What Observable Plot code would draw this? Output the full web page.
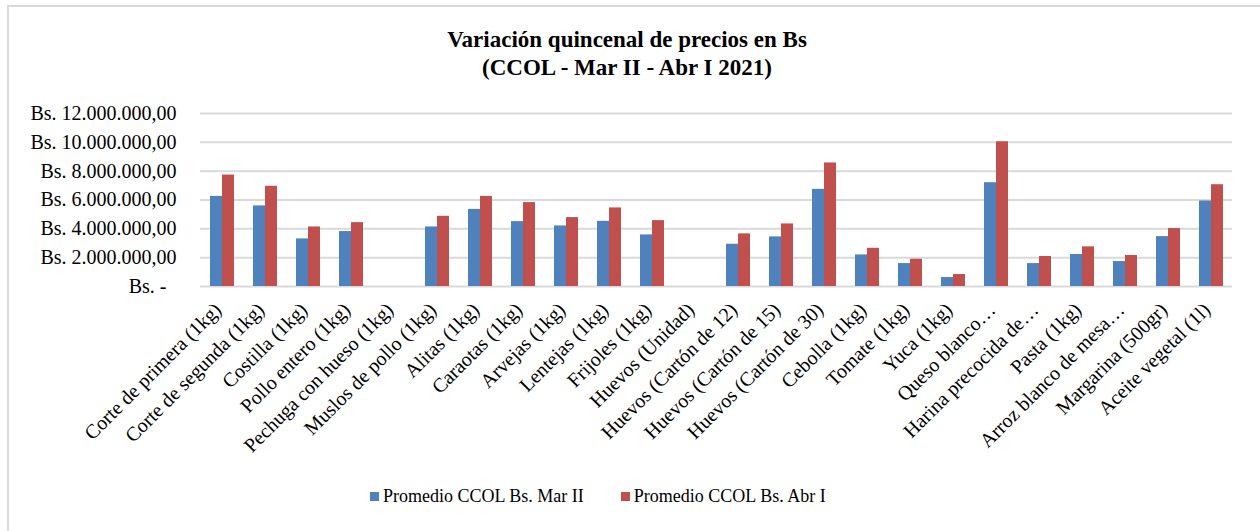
<!DOCTYPE html>
<html>
<head>
<meta charset="utf-8">
<script src="https://cdn.jsdelivr.net/npm/d3@7"></script>
<script src="https://cdn.jsdelivr.net/npm/@observablehq/plot@0.6"></script>
<style>
  body { margin: 0; background: #fff; font-family: "Liberation Serif", serif; }
  #wrap { position: relative; width: 1260px; height: 531px; overflow: hidden; background: #fff; }
  #frame { position: absolute; left: 7px; top: 5px; width: 1400px; height: 700px; border-top: 2px solid #d9d9d9; border-left: 2px solid #d9d9d9; }
  #title { position: absolute; top: 26px; left: 0; width: 1254px; text-align: center; font-weight: bold; font-size: 23px; line-height: 28px; color: #000; }
  #chart { position: absolute; top: 95px; left: 0; }
  #legend { position: absolute; top: 486px; left: 370px; display: flex; align-items: center; font-size: 18px; color: #000; }
  .item { display: flex; align-items: center; margin-right: 37px; }
  .sw { width: 9px; height: 9px; margin-right: 4px; }
</style>
</head>
<body>
<div id="wrap">
  <div id="frame"></div>
  <div id="title">Variación quincenal de precios en Bs<br>(CCOL - Mar II - Abr I 2021)</div>
  <div id="chart"></div>
  <div id="legend"></div>
</div>
<script>
const categories = [
  "Corte de primera (1kg)", "Corte de segunda (1kg)", "Costilla (1kg)", "Pollo entero (1kg)",
  "Pechuga con hueso (1kg)", "Muslos de pollo (1kg)", "Alitas (1kg)", "Caraotas (1kg)",
  "Arvejas (1kg)", "Lentejas (1kg)", "Frijoles (1kg)", "Huevos (Unidad)",
  "Huevos (Cartón de 12)", "Huevos (Cartón de 15)", "Huevos (Cartón de 30)", "Cebolla (1kg)",
  "Tomate (1kg)", "Yuca (1kg)", "Queso blanco…", "Harina precocida de…",
  "Pasta (1kg)", "Arroz blanco de mesa…", "Margarina (500gr)", "Aceite vegetal (1l)"
];
const series = ["Promedio CCOL Bs. Mar II", "Promedio CCOL Bs. Abr I"];
const marII = [6250000, 5590000, 3300000, 3810000, 0, 4130000, 5350000, 4500000,
  4200000, 4520000, 3580000, 0, 2930000, 3440000, 6740000, 2190000,
  1590000, 620000, 7200000, 1590000, 2220000, 1730000, 3460000, 5930000];
const abrI = [7730000, 6950000, 4130000, 4430000, 0, 4870000, 6250000, 5820000,
  4780000, 5450000, 4570000, 0, 3650000, 4340000, 8570000, 2650000,
  1890000, 830000, 10040000, 2080000, 2750000, 2150000, 4020000, 7060000];
const yTicks = [0, 2000000, 4000000, 6000000, 8000000, 10000000, 12000000];
const colors = ["#4F81BD", "#C0504D"];

const rows = [];
categories.forEach((c, i) => {
  rows.push({cat: c, serie: series[0], value: marII[i]});
  rows.push({cat: c, serie: series[1], value: abrI[i]});
});

const loc = d3.formatLocale({decimal: ",", thousands: ".", grouping: [3], currency: ["", ""]});
const fmt = loc.format(",.2f");
const tickFormat = d => d === 0 ? "Bs. -\u00a0\u00a0" : "Bs. " + fmt(d);

const chart = Plot.plot({
  width: 1260,
  height: 400,
  marginTop: 18,
  marginBottom: 209,
  marginLeft: 198,
  marginRight: 27,
  style: {fontFamily: "Liberation Serif, serif", fontSize: "18px", color: "#000", background: "transparent"},
  fx: {domain: categories, padding: 0, label: null},
  x: {domain: series, paddingInner: 0, paddingOuter: 0.75, axis: null},
  y: {domain: [0, 12000000], label: null},
  color: {domain: series, range: colors},
  marks: [
    Plot.gridY(yTicks, {stroke: "#d9d9d9", strokeOpacity: 1, strokeWidth: 2}),
    Plot.barY(rows, {fx: "cat", x: "serie", y: "value", fill: "serie", inset: 0, insetLeft: 0, insetRight: 0}),
    Plot.axisY(yTicks, {tickFormat, tickSize: 0, tickPadding: 24, fontSize: 20, label: null}),
    Plot.axisFx({anchor: "bottom", tickRotate: -45, tickSize: 0, tickPadding: 20, dx: -4, fontSize: 20, label: null})
  ]
});
document.getElementById("chart").appendChild(chart);

const legend = document.getElementById("legend");
series.forEach((s, i) => {
  const it = document.createElement("div");
  it.className = "item";
  const sw = document.createElement("div");
  sw.className = "sw";
  sw.style.background = colors[i];
  const t = document.createElement("span");
  t.textContent = s;
  it.appendChild(sw);
  it.appendChild(t);
  legend.appendChild(it);
});
</script>
</body>
</html>
